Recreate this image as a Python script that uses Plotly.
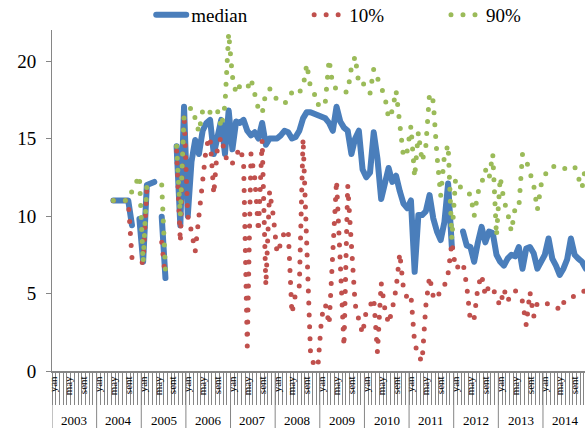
import plotly.graph_objects as go

years = [str(y) for y in range(2003, 2015)]
month_names = ['yan', 'fev', 'mart', 'apr', 'may', 'iyun', 'iyul', 'avg', 'sent', 'okt', 'noyab', 'dek']
shown_months = ['yan', 'may', 'sent']
series_names = ['median', '10%', '90%']

N = None
median = [N]*16 + [
    11.0, 11.0, 11.0, 11.0, 11.0, 9.4, N, 9.8,                      # 2004 may-dec
    7.05, 12.0, 12.1, 12.2, N, 9.95, 6.0, N, N, 14.5, 9.4, 17.05,   # 2005
    10.0, 13.5, 14.9, 14.0, 15.5, 16.0, 16.2, 14.0, 15.3, 16.2, 14.0, 16.8,  # 2006
    14.3, 16.1, 16.0, 16.2, 15.5, 15.2, 15.4, 15.0, 16.0, 14.6, 15.0, 15.0,  # 2007
    15.0, 15.2, 15.5, 15.4, 15.0, 15.1, 15.5, 16.3, 16.7, 16.7, 16.6, 16.5,  # 2008
    16.3, 16.3, 16.0, 15.5, 17.05, 16.1, 15.7, 15.5, 14.0, 15.0, 15.5, 13.0, # 2009
    12.5, 12.8, 15.4, 13.7, 11.1, 12.0, 13.1, 12.2, 12.6, 11.6, 10.8, 10.5,  # 2010
    11.0, 6.4, 10.06, 10.06, 10.3, 11.35, 9.85, 9.0, 8.45, 9.6, 12.1, 8.0,   # 2011
    N, N, 9.0, 8.1, 8.0, 7.05, 8.3, 9.3, 8.3, 9.0, 8.9, 7.5,                 # 2012
    7.05, 6.8, 7.25, 7.5, 7.4, 8.0, 6.6, 7.9, 8.0, 7.6, 6.6, 7.0,            # 2013
    7.5, 8.55, 7.25, 6.8, 6.2, 6.6, 7.2, 8.55, 7.5, 7.25, 7.05, 6.6,         # 2014
]

p10 = [N]*16 + [
    11.0, 11.0, 11.0, 11.0, 11.0, 7.3, 7.2, 7.0,
    7.0, 11.8, 12.0, 12.0, N, 8.3, 6.0, N, N, 14.2, 8.3, 16.6,
    10.0, 9.0, 7.7, 10.0, 12.3, 14.5, 15.1, 11.4, 14.5, 15.1, 14.0, 13.3,
    13.4, 14.0, 14.4, 13.6, 1.6, 14.0, 12.5, 9.0, 14.9, 5.5, 11.6, 10.0,
    7.6, 8.2, 9.0, 9.1, 3.7, 5.0, 5.5, 15.0, 7.0, 1.2, 0.3, 0.3,
    3.5, 4.3, 3.0, 7.5, 12.3, 7.0, 1.6, 12.0, 8.0, 4.3, 3.3, 2.4,
    3.9, 4.2, 4.7, 1.2, 5.7, 4.0, 3.05, 4.0, 5.3, 7.6, 5.3, 4.7,
    4.9, 1.8, 1.0, 0.6, 4.2, 6.1, 4.8, 4.6, 5.3, 5.5, 6.3, 8.3,
    6.6, 6.8, 7.0, 5.5, 3.2, 3.4, 5.4, 6.2, 4.85, 5.5, 5.4, 4.7,
    4.2, 5.3, 4.5, 5.0, 5.2, 4.9, 4.5, 2.95, 5.1, 3.5, 4.4, 4.45,
    4.4, 4.3, 4.25, 4.2, 3.9, 4.4, 4.7, 4.8, 4.8, 4.9, 5.1, 5.2,
]

p90 = [N]*16 + [
    11.0, 11.0, 11.0, 11.0, 11.0, 11.6, 12.1, 12.6,
    7.0, 12.0, 12.0, 12.1, N, 12.0, 6.5, N, N, 14.5, 10.0, 16.5,
    16.8, 17.0, 16.3, 15.4, 16.8, 16.5, 16.7, 16.5, 16.8, 15.7, 17.15, 21.8,
    19.0, 17.9, 18.4, 18.3, 18.2, 18.85, 17.9, 16.9, 16.6, 18.0, 18.2, 18.1,
    17.4, 17.3, 17.3, 17.4, 18.0, 17.8, 18.0, 18.3, 19.8, 18.3, 17.9, 17.15,
    17.6, 17.4, 20.1, 18.4, 18.2, 18.2, 18.0, 18.0, 19.6, 20.3, 18.5, 18.6,
    18.3, 17.9, 19.5, 18.9, 18.2, 17.7, 16.3, 16.8, 18.1, 16.1, 13.8, 14.2,
    15.8, 12.5, 15.4, 13.5, 14.5, 17.9, 17.4, 13.9, 11.3, 13.9, 14.6, 8.5,
    12.4, 12.0, 11.6, 11.5, 11.4, 10.0, 11.5, 12.1, 13.0, 12.4, 14.0, 8.7,
    12.5, 11.0, 10.2, 9.0, 10.5, 10.5, 14.0, 13.6, 12.9, 12.0, 10.4, 12.0,
    12.6, 13.1, 13.2, 13.2, 13.1, 13.0, 13.2, 13.2, 13.2, 12.5, 11.8, 13.3,
]

period = [f"{m} {y}" for y in years for m in month_names]
tick_text = [m if m in shown_months else '' for y in years for m in month_names]

BLUE = '#4A7EBB'
RED = '#C0504D'
GREEN = '#9BBB59'
GRAY = '#868686'
FONT = "Liberation Serif, 'Times New Roman', Times, serif"
PAD = '\u00a0' * 12  # spacing after legend labels

fig = go.Figure()
fig.add_trace(go.Scatter(x=period, y=median, name=series_names[0] + PAD, mode='lines',
                         line=dict(color=BLUE, width=6), connectgaps=False))
fig.add_trace(go.Scatter(x=period, y=p10, name=series_names[1] + PAD, mode='lines',
                         line=dict(color=RED, width=5, dash='0px,12px'), connectgaps=False))
fig.add_trace(go.Scatter(x=period, y=p90, name=series_names[2], mode='lines',
                         line=dict(color=GREEN, width=5, dash='0px,12px'), connectgaps=False))

shapes = []
for k in range(len(years) + 1):
    shapes.append(dict(type='line', xref='x', yref='paper', x0=12*k - 0.5, x1=12*k - 0.5,
                       y0=0, y1=-0.17, line=dict(color=GRAY, width=1)))
annotations = []
for k, y in enumerate(years):
    annotations.append(dict(xref='x', yref='paper', x=12*k + 5.5, y=-0.145, text=y,
                            showarrow=False, yanchor='middle',
                            font=dict(family=FONT, size=13, color='black')))

fig.update_layout(
    width=585, height=428,
    margin=dict(l=52, r=0, t=30, b=57, autoexpand=False),
    paper_bgcolor='white', plot_bgcolor='white',
    font=dict(family=FONT, color='black'),
    shapes=shapes, annotations=annotations,
    legend=dict(orientation='h', x=0.2585, xanchor='left', xref='container',
                y=1.0997, yref='paper', yanchor='top',
                font=dict(family=FONT, size=19, color='black'),
                bgcolor='rgba(0,0,0,0)'),
)
fig.update_xaxes(type='category', range=[-0.5, 142.8], showline=True, linecolor=GRAY,
                 linewidth=2, ticks='outside', ticklen=32, tickcolor=GRAY, tickwidth=1,
                 tickson='boundaries', tickmode='array', tickvals=period, ticktext=tick_text,
                 tickangle=-90, tickfont=dict(family=FONT, size=11, color='black'),
                 ticklabelstandoff=-1, showgrid=False, zeroline=False, automargin=False)
fig.update_yaxes(range=[0, 22], tickvals=[0, 5, 10, 15, 20], showline=True, linecolor=GRAY,
                 linewidth=1, ticks='outside', ticklen=5, tickcolor=GRAY,
                 tickfont=dict(family=FONT, size=19, color='black'), ticklabelstandoff=6,
                 showgrid=False, zeroline=False, automargin=False)

post = """
document.body.style.margin = '0';
var gd = document.getElementById('{plot_id}');
function rc(){
  gd.querySelectorAll('path.js-line').forEach(function(p){
    p.style.strokeLinecap = 'round';
    p.style.strokeLinejoin = 'round';
  });
}
rc();
gd.on('plotly_afterplot', rc);
"""
fig.write_html("out.html", post_script=post, config={'displayModeBar': False})
